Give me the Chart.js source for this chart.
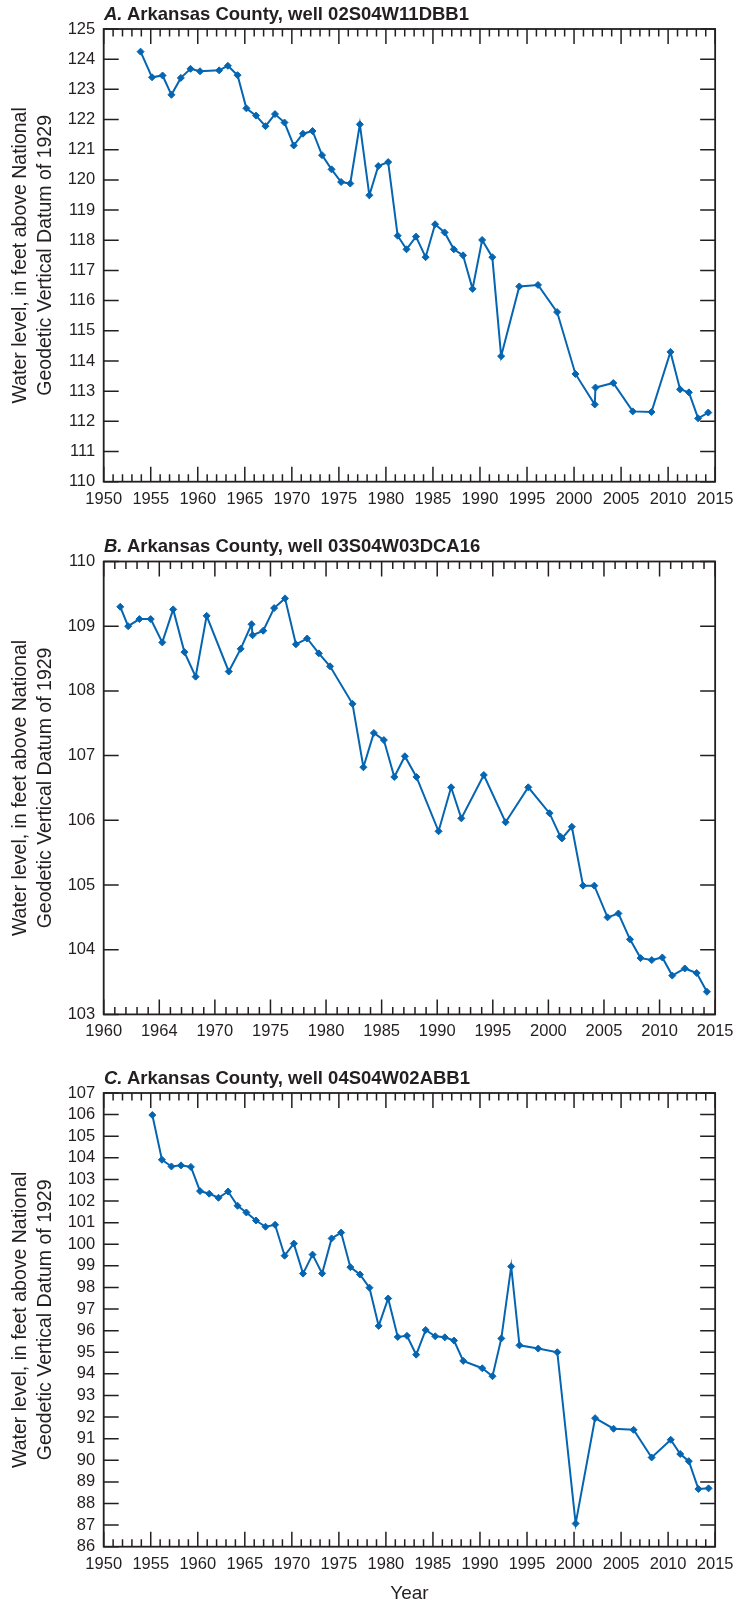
<!DOCTYPE html>
<html>
<head>
<meta charset="utf-8">
<script src="https://cdn.jsdelivr.net/npm/chart.js@4.4.0/dist/chart.umd.min.js"></script>
<style>
  body { margin: 0; background: #fff; }
  #page { position: relative; width: 741px; height: 1606px; overflow: hidden; }
  #page canvas { position: absolute; left: 0; }
  .panel-title {
    position: absolute; left: 104px; height: 24px; line-height: 24px;
    font-family: 'Liberation Sans', Arial, sans-serif;
    font-weight: bold; font-size: 18.5px; color: #231f20; white-space: nowrap;
  }
</style>
</head>
<body>
<div id="page">
  <canvas id="chartA" width="741" height="515" style="top:0px"></canvas>
  <canvas id="chartB" width="741" height="520" style="top:530px"></canvas>
  <canvas id="chartC" width="741" height="544" style="top:1062px"></canvas>
  <div class="panel-title" style="top:2px"><i>A.</i> Arkansas County, well 02S04W11DBB1</div>
  <div class="panel-title" style="top:534px"><i>B.</i> Arkansas County, well 03S04W03DCA16</div>
  <div class="panel-title" style="top:1066px"><i>C.</i> Arkansas County, well 04S04W02ABB1</div>
</div>
<script>
// well 02S04W11DBB1
const yearsA = [1953.92, 1955.14, 1956.26, 1957.2, 1958.2, 1959.23, 1960.24, 1962.27, 1963.2, 1964.23,
  1965.17, 1966.19, 1967.2, 1968.21, 1969.22, 1970.2, 1971.18, 1972.2, 1973.21, 1974.22,
  1975.24, 1976.21, 1977.23, 1978.24, 1979.19, 1980.24, 1981.25, 1982.19, 1983.2, 1984.22,
  1985.23, 1986.24, 1987.22, 1988.2, 1989.21, 1990.23, 1991.31, 1992.25, 1994.18, 1996.17,
  1998.2, 2000.15, 2002.2, 2002.28, 2004.17, 2006.24, 2008.23, 2010.25, 2011.27, 2012.21,
  2013.19, 2014.27];
const levelsA = [124.25, 123.40, 123.46, 122.82, 123.38, 123.68, 123.60, 123.63, 123.78, 123.47,
  122.37, 122.13, 121.78, 122.18, 121.90, 121.14, 121.53, 121.62, 120.82, 120.35,
  119.93, 119.88, 121.84, 119.49, 120.46, 120.59, 118.15, 117.70, 118.12, 117.44,
  118.53, 118.26, 117.70, 117.50, 116.39, 118.01, 117.44, 114.16, 116.47, 116.52,
  115.62, 113.57, 112.56, 113.12, 113.27, 112.33, 112.31, 114.30, 113.06, 112.96,
  112.10, 112.29];

// well 03S04W03DCA16
const yearsB = [1961.49, 1962.2, 1963.21, 1964.23, 1965.27, 1966.25, 1967.26, 1968.27, 1969.26, 1971.25,
  1972.32, 1973.3, 1973.39, 1974.35, 1975.33, 1976.31, 1977.29, 1978.3, 1979.35, 1980.36,
  1982.38, 1983.36, 1984.3, 1985.2, 1986.14, 1987.09, 1988.13, 1990.12, 1991.25, 1992.17,
  1994.19, 1996.15, 1998.19, 2000.1, 2001.07, 2001.22, 2002.11, 2003.12, 2004.13, 2005.32,
  2006.3, 2007.34, 2008.29, 2009.3, 2010.25, 2011.14, 2012.27, 2013.34, 2014.26];
const levelsB = [109.30, 109.00, 109.11, 109.11, 108.75, 109.26, 108.60, 108.22, 109.16, 108.30,
  108.65, 109.03, 108.86, 108.93, 109.28, 109.43, 108.72, 108.81, 108.58, 108.38,
  107.80, 106.82, 107.35, 107.24, 106.67, 106.99, 106.67, 105.83, 106.51, 106.03,
  106.70, 105.97, 106.51, 106.11, 105.75, 105.72, 105.90, 104.99, 104.99, 104.50,
  104.56, 104.16, 103.87, 103.84, 103.88, 103.60, 103.71, 103.64, 103.35];

// well 04S04W02ABB1
const yearsC = [1955.17, 1956.19, 1957.2, 1958.22, 1959.27, 1960.24, 1961.22, 1962.2, 1963.22, 1964.23,
  1965.17, 1966.19, 1967.2, 1968.22, 1969.23, 1970.21, 1971.19, 1972.2, 1973.22, 1974.23,
  1975.24, 1976.22, 1977.24, 1978.25, 1979.23, 1980.24, 1981.26, 1982.24, 1983.22, 1984.23,
  1985.24, 1986.26, 1987.24, 1988.22, 1990.24, 1991.33, 1992.27, 1993.32, 1994.2, 1996.19,
  1998.22, 2000.17, 2002.24, 2004.2, 2006.33, 2008.25, 2010.28, 2011.29, 2012.2, 2013.22,
  2014.3];
const levelsC = [105.98, 103.91, 103.60, 103.65, 103.58, 102.46, 102.34, 102.15, 102.44, 101.78,
  101.47, 101.10, 100.81, 100.90, 99.47, 100.03, 98.64, 99.52, 98.65, 100.27,
  100.54, 98.94, 98.60, 97.99, 96.22, 97.49, 95.71, 95.76, 94.89, 96.03,
  95.74, 95.69, 95.54, 94.60, 94.26, 93.89, 95.64, 98.97, 95.32, 95.17,
  95.00, 87.07, 91.95, 91.46, 91.41, 90.13, 90.95, 90.29, 89.96, 88.67,
  88.70];

// axis ranges and tick labels
const xRangeA = [1950, 2015];
const xRangeB = [1960, 2015];
const xRangeC = [1950, 2015];
const yRangeA = [110, 125];
const yRangeB = [103, 110];
const yRangeC = [86, 107];
const xLabelsB = { 1965: '1964' };   // as printed on the original figure
const yTitle = ['Water level, in feet above National', 'Geodetic Vertical Datum of 1929'];

const ink = '#231f20';
const blue = '#0565b1';

Chart.defaults.font.family = "'Liberation Sans', Arial, sans-serif";
Chart.defaults.color = ink;

// box round the plot with inward ticks on all four sides
const frameTicks = {
  id: 'frameTicks',
  beforeDatasetsDraw(chart) {
    const ctx = chart.ctx;
    const area = chart.chartArea;
    const xs = chart.scales.x;
    const ys = chart.scales.y;
    ctx.save();
    ctx.strokeStyle = ink;
    ctx.lineWidth = 1.5;
    ctx.beginPath();
    ys.ticks.forEach(t => {
      const py = ys.getPixelForValue(t.value);
      ctx.moveTo(area.left, py); ctx.lineTo(area.left + 15, py);
      ctx.moveTo(area.right, py); ctx.lineTo(area.right - 15, py);
    });
    for (let yr = xs.min; yr <= xs.max; yr++) {
      const px = xs.getPixelForValue(yr);
      const len = yr % 5 === 0 ? 15 : 7.5;
      ctx.moveTo(px, area.bottom); ctx.lineTo(px, area.bottom - len);
      ctx.moveTo(px, area.top); ctx.lineTo(px, area.top + len);
    }
    ctx.stroke();
    ctx.lineWidth = 1.8;
    ctx.strokeRect(area.left, area.top, area.right - area.left, area.bottom - area.top);
    ctx.restore();
  }
};

function makeChart(id, years, levels, xRange, yRange, cfg) {
  const points = years.map((yr, i) => ({ x: yr, y: levels[i] }));
  return new Chart(document.getElementById(id), {
    type: 'line',
    data: {
      datasets: [{
        data: points,
        borderColor: blue,
        backgroundColor: blue,
        borderWidth: 2,
        pointStyle: 'rectRot',
        pointRadius: 3.5,
        pointBorderWidth: 1,
        tension: 0
      }]
    },
    options: {
      responsive: false,
      animation: false,
      devicePixelRatio: 1,
      layout: { padding: { top: cfg.top, right: 17.7, bottom: 0, left: 0 } },
      plugins: { legend: { display: false }, tooltip: { enabled: false } },
      scales: {
        x: {
          type: 'linear',
          min: xRange[0],
          max: xRange[1],
          grid: { display: false, drawTicks: false },
          border: { display: false },
          ticks: {
            stepSize: 5,
            padding: 7.5,
            maxRotation: 0,
            autoSkip: false,
            font: { size: 16.5 },
            color: ink,
            callback: v => (cfg.xLabels && cfg.xLabels[v]) || String(v)
          },
          title: {
            display: !!cfg.xTitle,
            text: cfg.xTitle || '',
            font: { size: 19 },
            color: ink,
            padding: { top: 0, bottom: 1 }
          },
          afterFit: s => { s.height = cfg.xHeight; }
        },
        y: {
          min: yRange[0],
          max: yRange[1],
          grid: { display: false, drawTicks: false },
          border: { display: false },
          ticks: { stepSize: 1, autoSkip: false, padding: 8.5, font: { size: 16.5 }, color: ink },
          title: {
            display: true,
            text: yTitle,
            font: { size: 19.5, lineHeight: 1.29 },
            color: ink,
            padding: { top: 8, bottom: 0 }
          },
          afterFit: s => { s.width = 103.7; }
        }
      }
    },
    plugins: [frameTicks]
  });
}

function initCharts() {
  makeChart('chartA', yearsA, levelsA, xRangeA, yRangeA, { top: 29, xHeight: 33.3 });
  makeChart('chartB', yearsB, levelsB, xRangeB, yRangeB, { top: 31.5, xHeight: 35.6, xLabels: xLabelsB });
  makeChart('chartC', yearsC, levelsC, xRangeC, yRangeC, { top: 31, xHeight: 59.3, xTitle: 'Year' });
}

initCharts();
</script>
</body>
</html>
